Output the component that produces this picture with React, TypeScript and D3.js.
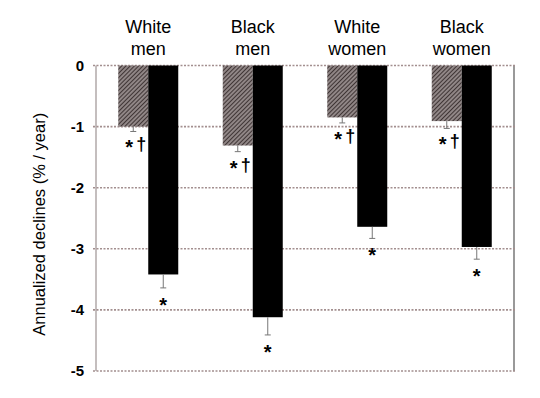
import * as d3 from "d3";

const W = 540;
const H = 398;
const MARGIN = { top: 65.5, right: 26, bottom: 27, left: 96 };

const groups = ["White men", "Black men", "White women", "Black women"];
const titleTop = ["White", "Black", "White", "Black"];
const titleBottom = ["men", "men", "women", "women"];
const hatchVals = [-1.0, -1.31, -0.85, -0.91];
const hatchErr = [0.08, 0.1, 0.09, 0.12];
const solidVals = [-3.42, -4.12, -2.64, -2.97];
const solidErr = [0.22, 0.29, 0.19, 0.2];
const yTicks = [0, -1, -2, -3, -4, -5];

const FONT = "Arial, 'Liberation Sans', sans-serif";
const GRID = "#a38f8f";

export default function App() {
  const boundsW = W - MARGIN.left - MARGIN.right;
  const boundsH = H - MARGIN.top - MARGIN.bottom;

  const x = d3.scaleBand().domain(groups).range([0, boundsW]);
  const y = d3.scaleLinear().domain([0, -5]).range([0, boundsH]);
  const barW = 30;

  const bars = groups.map((g, i) => {
    const cx = (x(g) ?? 0) + x.bandwidth() / 2;
    const hx = cx - barW;
    const hEnd = y(hatchVals[i] - hatchErr[i]);
    const sEnd = y(solidVals[i] - solidErr[i]);
    return (
      <g key={g}>
        <rect x={hx} y={y(0)} width={barW} height={y(hatchVals[i]) - y(0)} fill="url(#hatch)" />
        <line x1={hx + barW / 2} x2={hx + barW / 2} y1={y(hatchVals[i])} y2={hEnd} stroke="#777" strokeWidth={1} />
        <line x1={hx + barW / 2 - 3} x2={hx + barW / 2 + 3} y1={hEnd} y2={hEnd} stroke="#777" strokeWidth={1} />
        <text x={hx + barW / 2 - 4} y={hEnd + 23} textAnchor="middle" fontSize={20} fontWeight="bold" fontFamily={FONT}>*</text>
        <text x={hx + barW / 2 + 8} y={hEnd + 19} textAnchor="middle" fontSize={18} fontWeight="bold" fontFamily={FONT}>†</text>

        <rect x={cx} y={y(0)} width={barW} height={y(solidVals[i]) - y(0)} fill="#000" />
        <line x1={cx + barW / 2} x2={cx + barW / 2} y1={y(solidVals[i])} y2={sEnd} stroke="#777" strokeWidth={1} />
        <line x1={cx + barW / 2 - 3} x2={cx + barW / 2 + 3} y1={sEnd} y2={sEnd} stroke="#777" strokeWidth={1} />
        <text x={cx + barW / 2} y={sEnd + 24} textAnchor="middle" fontSize={20} fontWeight="bold" fontFamily={FONT}>*</text>

        <text x={cx} y={-33} textAnchor="middle" fontSize={18} fontFamily={FONT}>{titleTop[i]}</text>
        <text x={cx} y={-11} textAnchor="middle" fontSize={18} fontFamily={FONT}>{titleBottom[i]}</text>
      </g>
    );
  });

  const grid = yTicks.map((t) => (
    <g key={t}>
      <line x1={-3} x2={boundsW + 2} y1={y(t)} y2={y(t)} stroke={GRID} strokeWidth={1.6} strokeDasharray="2,1.5" />
      <text x={-12} y={y(t)} dy="0.36em" textAnchor="end" fontSize={15} fontWeight="bold" fontFamily={FONT}>{t}</text>
    </g>
  ));

  return (
    <svg width={W} height={H} style={{ position: "absolute", left: 0, top: 0, background: "#fff" }}>
      <defs>
        <pattern id="hatch" patternUnits="userSpaceOnUse" width={3} height={3} patternTransform="rotate(45)">
          <rect width={3} height={3} fill="#908686" />
          <line x1={0} y1={0} x2={0} y2={3} stroke="#352b2b" strokeWidth={1.8} />
        </pattern>
      </defs>
      <text transform={`translate(45, ${MARGIN.top + boundsH / 2 + 6}) rotate(-90)`} textAnchor="middle" fontSize={16.5} fontFamily={FONT}>
        Annualized declines (% / year)
      </text>
      <g transform={`translate(${MARGIN.left}, ${MARGIN.top})`}>
        <line x1={0} x2={0} y1={0} y2={boundsH} stroke="#b0a8a8" strokeWidth={1.5} />
        <line x1={boundsW} x2={boundsW} y1={0} y2={boundsH} stroke="#555" strokeWidth={1.2} />
        {grid}
        {bars}
      </g>
    </svg>
  );
}
